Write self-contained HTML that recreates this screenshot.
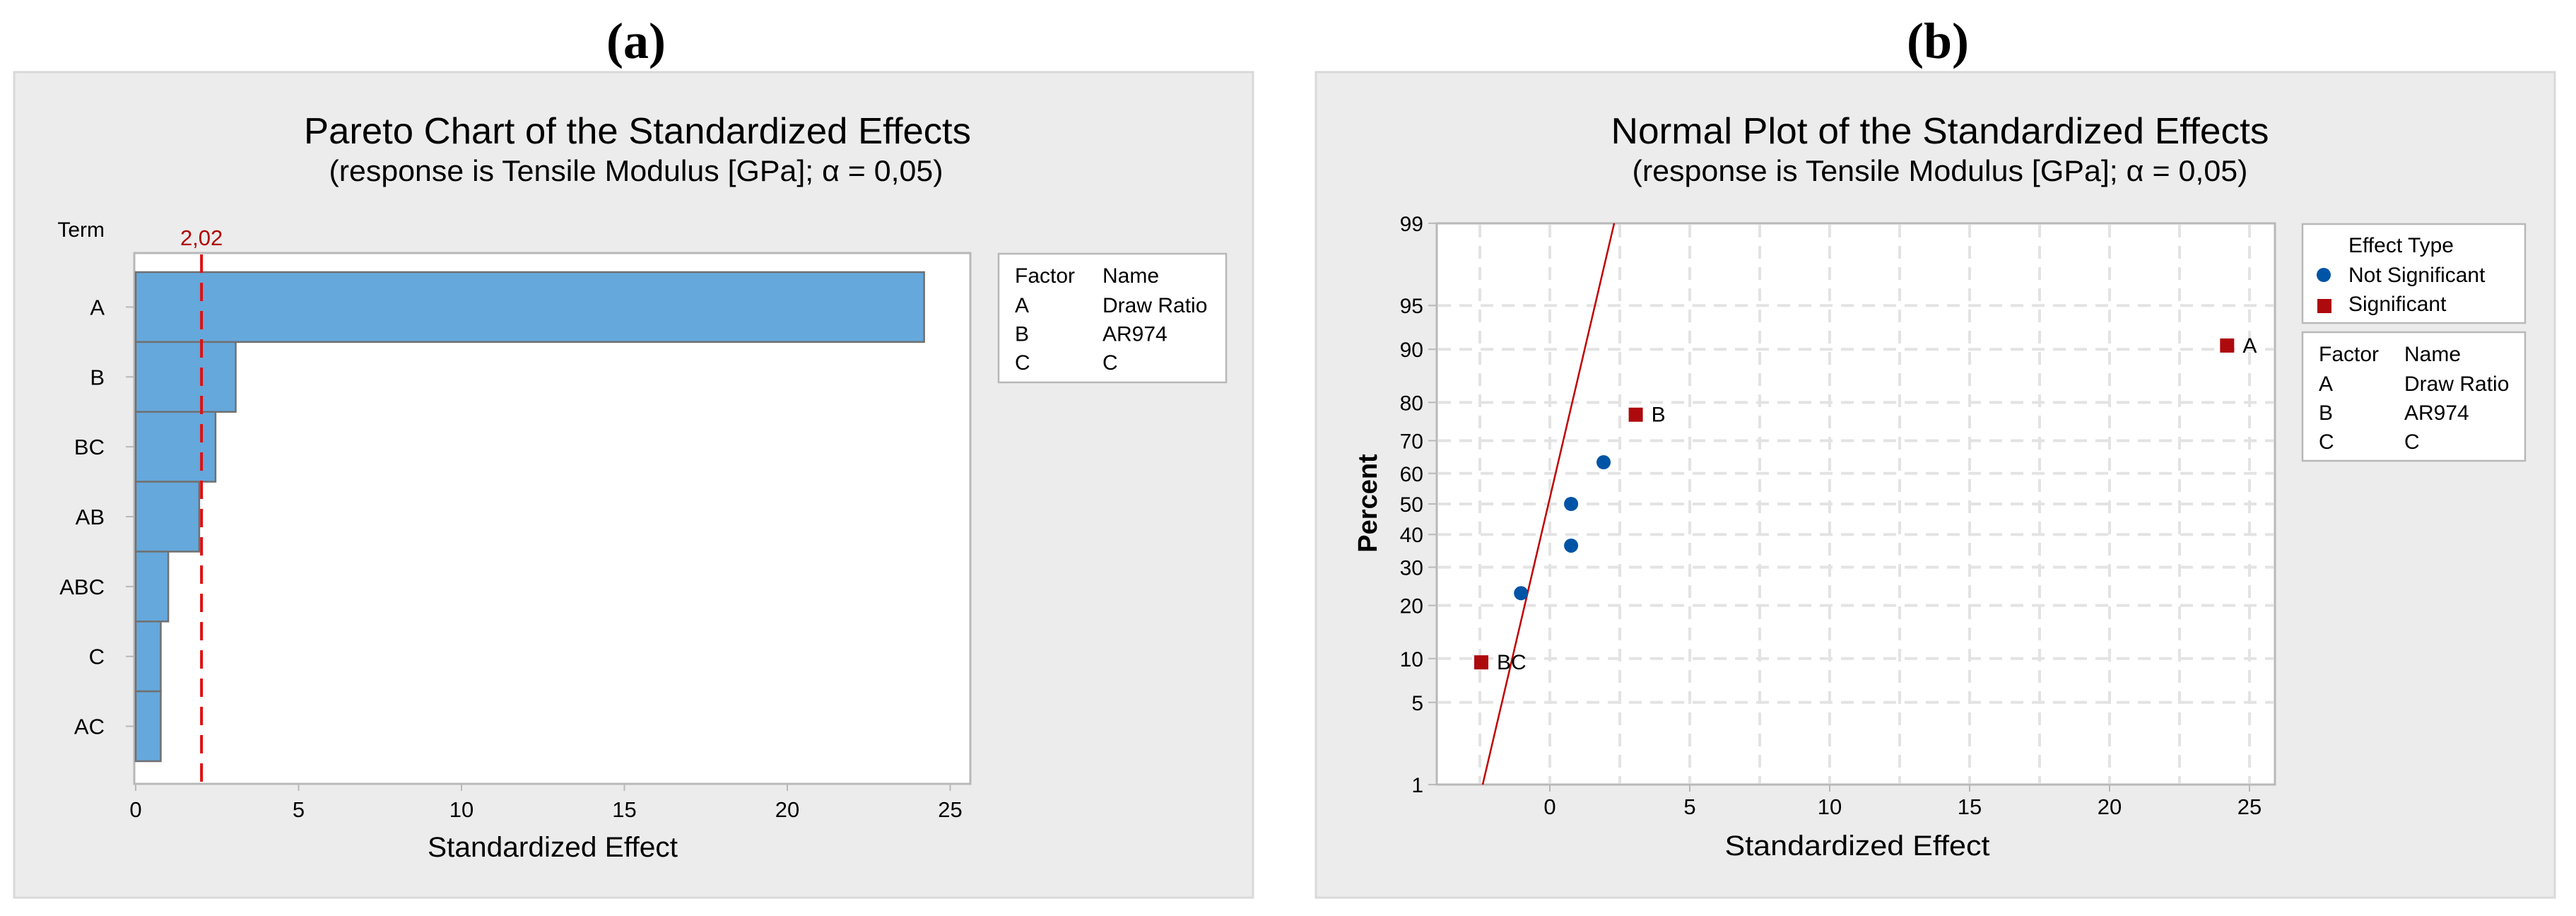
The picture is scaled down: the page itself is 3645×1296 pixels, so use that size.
<!DOCTYPE html>
<html><head><meta charset="utf-8"><style>
html,body{margin:0;padding:0;background:#fff;}
svg{display:block;font-family:"Liberation Sans",sans-serif;}
</style></head><body>
<svg id="fig" width="3645" height="1296" viewBox="0 0 3645 1296" xmlns="http://www.w3.org/2000/svg">
<text x="900" y="82" text-anchor="middle" font-family="Liberation Serif,serif" font-size="72" font-weight="bold">(a)</text>
<text x="2742" y="82" text-anchor="middle" font-family="Liberation Serif,serif" font-size="72" font-weight="bold">(b)</text>
<rect x="20" y="102" width="1753" height="1168" fill="#ececec" stroke="#d9d9d9" stroke-width="3"/>
<rect x="1862" y="102" width="1753" height="1168" fill="#ececec" stroke="#d9d9d9" stroke-width="3"/>
<text x="902" y="203" text-anchor="middle" font-size="52" textLength="944" lengthAdjust="spacingAndGlyphs">Pareto Chart of the Standardized Effects</text>
<text x="900" y="256" text-anchor="middle" font-size="42" textLength="869" lengthAdjust="spacingAndGlyphs">(response is Tensile Modulus [GPa]; α = 0,05)</text>
<text x="2745" y="203" text-anchor="middle" font-size="52" textLength="931" lengthAdjust="spacingAndGlyphs">Normal Plot of the Standardized Effects</text>
<text x="2745" y="256" text-anchor="middle" font-size="42" textLength="871" lengthAdjust="spacingAndGlyphs">(response is Tensile Modulus [GPa]; α = 0,05)</text>
<g id="pareto"></g>
<g id="normal"></g>
</svg>
<script>
// ---- data ----
const terms = ["A","B","BC","AB","ABC","C","AC"];
const effects = [24.2, 3.07, -2.45, 1.95, -1.0, 0.77, 0.77];
const critValue = 2.02;
const critLabel = "2,02";
const paretoTicks = [0,5,10,15,20,25];
const normalXTicks = [0,5,10,15,20,25];
const percentTicks = [1,5,10,20,30,40,50,60,70,80,90,95,99];
const normalEffects = [-2.45, -1.03, 0.76, 0.76, 1.92, 3.07, 24.2];
const normalSignificant = [true,false,false,false,false,true,true];
const normalLabels = ["BC","","","","","B","A"];
const fitMean = [-0.05];
const fitSigma = [1.01];
const factorRows = [["A","Draw Ratio"],["B","AR974"],["C","C"]];

const NS="http://www.w3.org/2000/svg";
function mk(tag, attrs, parent, text){
  const e=document.createElementNS(NS,tag);
  for(const k in attrs) e.setAttribute(k,attrs[k]);
  if(text!==undefined) e.textContent=text;
  parent.appendChild(e); return e;
}
function invNorm(p){
  const a=[-39.6968302866538,220.946098424521,-275.928510446969,138.357751867269,-30.6647980661472,2.50662827745924];
  const b=[-54.4760987982241,161.585836858041,-155.698979859887,66.8013118877197,-13.2806815528857];
  const c=[-0.00778489400243029,-0.322396458041136,-2.40075827716184,-2.54973253934373,4.37466414146497,2.93816398269878];
  const d=[0.00778469570904146,0.32246712907004,2.445134137143,3.75440866190742];
  const pl=0.02425;let q,r;
  if(p<pl){q=Math.sqrt(-2*Math.log(p));return (((((c[0]*q+c[1])*q+c[2])*q+c[3])*q+c[4])*q+c[5])/((((d[0]*q+d[1])*q+d[2])*q+d[3])*q+1);}
  if(p>1-pl){q=Math.sqrt(-2*Math.log(1-p));return -(((((c[0]*q+c[1])*q+c[2])*q+c[3])*q+c[4])*q+c[5])/((((d[0]*q+d[1])*q+d[2])*q+d[3])*q+1);}
  q=p-0.5;r=q*q;return (((((a[0]*r+a[1])*r+a[2])*r+a[3])*r+a[4])*r+a[5])*q/(((((b[0]*r+b[1])*r+b[2])*r+b[3])*r+b[4])*r+1);
}

// ---- Pareto ----
(function(){
  const g=document.getElementById('pareto');
  const L=190,T=358,R=1373,B=1109;
  const xS=v=>192+v*46.1;
  const barTop=385, barH=(1077-385)/terms.length;
  const bg=mk('rect',{x:L,y:T,width:R-L,height:B-T,fill:'#fff',stroke:'#b8b8b8','stroke-width':3},g);
  
  
  const t=mk('text',{x:148,y:335,'text-anchor':'end','font-size':30},g,'Term');
  
  
  terms.forEach((term,i)=>{
    const v=Math.abs(effects[i]);
    const y=barTop+i*barH;
    const r=mk('rect',{x:xS(0),y:y,width:xS(v)-xS(0),height:barH,fill:'#65a8dc',stroke:'#707070','stroke-width':2.5},g);
    
    
    mk('line',{x1:178,x2:L,y1:y+barH/2,y2:y+barH/2,stroke:'#b8b8b8','stroke-width':2},g);
    const lb=mk('text',{x:148,y:y+barH/2+11,'text-anchor':'end','font-size':31},g,term);
    
    
  });
  const cl=mk('line',{x1:xS(critValue),x2:xS(critValue),y1:T+2,y2:B,stroke:'#e01010','stroke-width':4,'stroke-dasharray':'26 14'},g);
  
  
  const ct=mk('text',{x:xS(critValue),y:347,'text-anchor':'middle','font-size':31,fill:'#b00000'},g,critLabel);
  
  
  paretoTicks.forEach(v=>{
    mk('line',{x1:xS(v),x2:xS(v),y1:B,y2:B+10,stroke:'#b8b8b8','stroke-width':2},g);
    const tx=mk('text',{x:xS(v),y:1156,'text-anchor':'middle','font-size':31},g,String(v));
    
    
  });
  const xt=mk('text',{x:782,y:1212,'text-anchor':'middle','font-size':40,textLength:354,lengthAdjust:'spacingAndGlyphs'},g,'Standardized Effect');
  
  
  const lg=mk('rect',{x:1413,y:359,width:322,height:182,fill:'#fff',stroke:'#b8b8b8','stroke-width':2.5},g);
  
  
  mk('text',{x:1436,y:400,'font-size':30},g,'Factor');
  mk('text',{x:1560,y:400,'font-size':30},g,'Name');
  factorRows.forEach((row,i)=>{
    mk('text',{x:1436,y:442+i*40.5,'font-size':30},g,row[0]);
    mk('text',{x:1560,y:442+i*40.5,'font-size':30},g,row[1]);
  });
})();

// ---- Normal plot ----
(function(){
  const g=document.getElementById('normal');
  const L=2033,T=316,R=3219,B=1110;
  const xS=v=>2193+v*39.6;
  const yS=p=>713-invNorm(p/100)*170.7;
  const bg=mk('rect',{x:L,y:T,width:R-L,height:B-T,fill:'#fff',stroke:'#b8b8b8','stroke-width':3},g);
  
  
  for(let v=-2.5;v<=25.01;v+=2.5){
    mk('line',{x1:xS(v),x2:xS(v),y1:T+2,y2:B-2,stroke:'#e3e3e3','stroke-width':4,'stroke-dasharray':'18 12'},g);
  }
  percentTicks.forEach(p=>{
    if(p!==1&&p!==99) mk('line',{x1:L+2,x2:R-2,y1:yS(p),y2:yS(p),stroke:'#e3e3e3','stroke-width':4,'stroke-dasharray':'18 12'},g);
    mk('line',{x1:L-12,x2:L,y1:yS(p),y2:yS(p),stroke:'#b8b8b8','stroke-width':2},g);
    const tx=mk('text',{x:2014,y:yS(p)+11,'text-anchor':'end','font-size':30},g,String(p));
    
    
  });
  normalXTicks.forEach(v=>{
    mk('line',{x1:xS(v),x2:xS(v),y1:B,y2:B+10,stroke:'#b8b8b8','stroke-width':2},g);
    const tx=mk('text',{x:xS(v),y:1152,'text-anchor':'middle','font-size':31},g,String(v));
    
    
  });
  const z1=invNorm(0.01), z2=invNorm(0.99);
  const fl=mk('line',{x1:xS(fitMean[0]+fitSigma[0]*z1),y1:yS(1),x2:xS(fitMean[0]+fitSigma[0]*z2),y2:yS(99),stroke:'#c00000','stroke-width':2.5},g);
  
  
  const n=normalEffects.length;
  normalEffects.forEach((e,i)=>{
    const p=(i+1-0.3)/(n+0.4)*100;
    const cx=xS(e), cy=yS(p);
    let m;
    if(normalSignificant[i]){
      m=mk('rect',{x:cx-10,y:cy-10,width:20,height:20,fill:'#ad0a0e'},g);
    } else {
      m=mk('circle',{cx:cx,cy:cy,r:10,fill:'#0054a6'},g);
    }
    
    
    if(normalLabels[i]){
      const lb=mk('text',{x:cx+22,y:cy+10,'font-size':30},g,normalLabels[i]);
      
      
    }
  });
  const xt=mk('text',{x:2628,y:1210,'text-anchor':'middle','font-size':40,textLength:375,lengthAdjust:'spacingAndGlyphs'},g,'Standardized Effect');
  
  
  const yt=mk('text',{x:0,y:0,'text-anchor':'middle','font-size':38,'font-weight':'bold',transform:'translate(1948,712) rotate(-90)'},g,'Percent');
  
  
  const l1=mk('rect',{x:3258,y:317,width:315,height:140,fill:'#fff',stroke:'#b8b8b8','stroke-width':2.5},g);
  
  
  mk('text',{x:3323,y:357,'font-size':30},g,'Effect Type');
  mk('circle',{cx:3288,cy:389,r:10,fill:'#0054a6'},g);
  mk('text',{x:3323,y:399,'font-size':30},g,'Not Significant');
  mk('rect',{x:3279,y:423,width:20,height:20,fill:'#ad0a0e'},g);
  mk('text',{x:3323,y:440,'font-size':30},g,'Significant');
  const l2=mk('rect',{x:3258,y:470,width:315,height:182,fill:'#fff',stroke:'#b8b8b8','stroke-width':2.5},g);
  
  
  mk('text',{x:3281,y:511,'font-size':30},g,'Factor');
  mk('text',{x:3402,y:511,'font-size':30},g,'Name');
  factorRows.forEach((row,i)=>{
    mk('text',{x:3281,y:553+i*41,'font-size':30},g,row[0]);
    mk('text',{x:3402,y:553+i*41,'font-size':30},g,row[1]);
  });
})();
</script>
</body></html>
